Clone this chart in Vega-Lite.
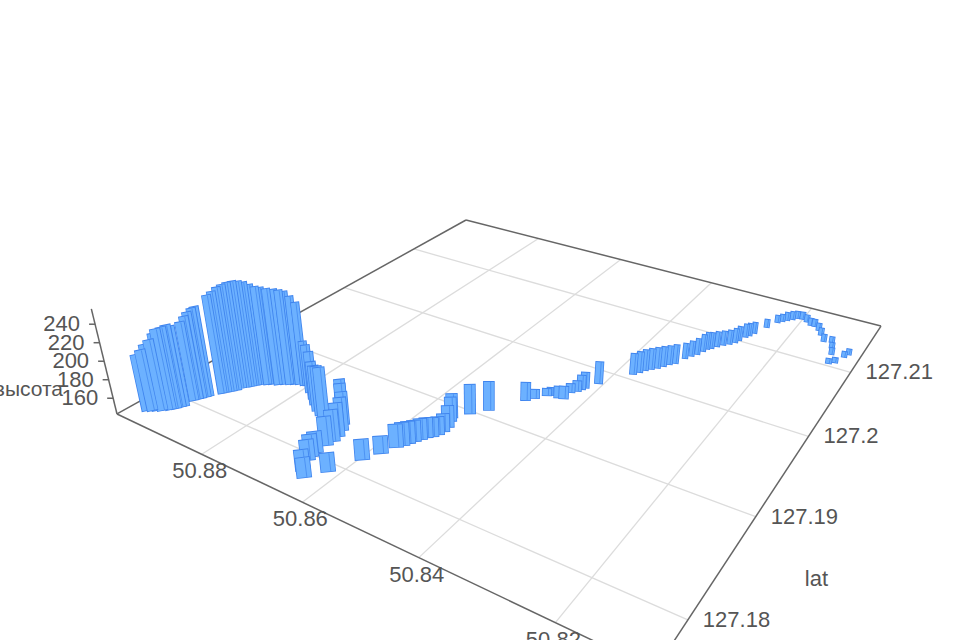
{"$schema":"https://vega.github.io/schema/vega-lite/v6.json","width":960,"height":640,"padding":0,"autosize":{"type":"none"},"background":"white","config":{"view":{"stroke":null}},
"datasets":{
"lines":[
{"kind":"grid","lon1":50.88,"lat1":127.2187,"lon2":50.88,"lat2":127.176},
{"kind":"grid","lon1":50.86,"lat1":127.2187,"lon2":50.86,"lat2":127.176},
{"kind":"grid","lon1":50.84,"lat1":127.2187,"lon2":50.84,"lat2":127.176},
{"kind":"grid","lon1":50.82,"lat1":127.2187,"lon2":50.82,"lat2":127.176},
{"kind":"grid","lon1":50.8993,"lat1":127.21,"lon2":50.8073,"lat2":127.21},
{"kind":"grid","lon1":50.8993,"lat1":127.2,"lon2":50.8073,"lat2":127.2},
{"kind":"grid","lon1":50.8993,"lat1":127.19,"lon2":50.8073,"lat2":127.19},
{"kind":"grid","lon1":50.8993,"lat1":127.18,"lon2":50.8073,"lat2":127.18},
{"kind":"axis","lon1":50.8993,"lat1":127.2187,"lon2":50.8073,"lat2":127.2187},
{"kind":"axis","lon1":50.8993,"lat1":127.2187,"lon2":50.8993,"lat2":127.176},
{"kind":"axis","lon1":50.8993,"lat1":127.176,"lon2":50.8073,"lat2":127.176},
{"kind":"axis","lon1":50.8073,"lat1":127.2187,"lon2":50.8073,"lat2":127.176}
],
"lonTicks":[{"lon":50.88,"lat":127.176,"label":"50.88"},{"lon":50.86,"lat":127.176,"label":"50.86"},{"lon":50.84,"lat":127.176,"label":"50.84"},{"lon":50.82,"lat":127.176,"label":"50.82"}],
"latTicks":[{"lon":50.8073,"lat":127.21,"label":"127.21"},{"lon":50.8073,"lat":127.2,"label":"127.2"},{"lon":50.8073,"lat":127.19,"label":"127.19"},{"lon":50.8073,"lat":127.18,"label":"127.18"}],
"zTicks":[{"lon":50.8993,"lat":127.176,"h":160,"label":"160"},{"lon":50.8993,"lat":127.176,"h":180,"label":"180"},{"lon":50.8993,"lat":127.176,"h":200,"label":"200"},{"lon":50.8993,"lat":127.176,"h":220,"label":"220"},{"lon":50.8993,"lat":127.176,"h":240,"label":"240"}],
"zAxis":[{"lon":50.8993,"lat":127.176,"h":256.5}],
"bars":[
{"lon":50.8962,"lat":127.1775,"h":203},{"lon":50.8955,"lat":127.1777,"h":208},{"lon":50.8949,"lat":127.1779,"h":214},{"lon":50.8942,"lat":127.1781,"h":219},{"lon":50.8938,"lat":127.1784,"h":225},{"lon":50.8933,"lat":127.1785,"h":230},{"lon":50.8928,"lat":127.1788,"h":231},{"lon":50.8925,"lat":127.1791,"h":232},{"lon":50.8922,"lat":127.1793,"h":230},
{"lon":50.8923,"lat":127.1802,"h":229},{"lon":50.892,"lat":127.1805,"h":234},{"lon":50.8917,"lat":127.1807,"h":238},{"lon":50.8914,"lat":127.181,"h":241},{"lon":50.8912,"lat":127.1812,"h":242},
{"lon":50.8901,"lat":127.182,"h":252},{"lon":50.8897,"lat":127.1823,"h":255},{"lon":50.8892,"lat":127.1826,"h":259},{"lon":50.8888,"lat":127.1829,"h":261},{"lon":50.8886,"lat":127.1833,"h":261.5},{"lon":50.8881,"lat":127.1836,"h":262},{"lon":50.8876,"lat":127.1839,"h":261},{"lon":50.8872,"lat":127.1842,"h":259},{"lon":50.8867,"lat":127.1845,"h":255.5},{"lon":50.886,"lat":127.1847,"h":253},{"lon":50.8854,"lat":127.1849,"h":252},{"lon":50.8845,"lat":127.1851,"h":251},{"lon":50.8837,"lat":127.1854,"h":250},{"lon":50.883,"lat":127.1856,"h":249},{"lon":50.8824,"lat":127.1858,"h":247.5},{"lon":50.8817,"lat":127.186,"h":242},{"lon":50.8808,"lat":127.1861,"h":236},
{"lon":50.8804,"lat":127.1862,"h":192},{"lon":50.8785,"lat":127.1856,"h":195},{"lon":50.8768,"lat":127.1851,"h":194},{"lon":50.8754,"lat":127.1846,"h":189},{"lon":50.8738,"lat":127.1841,"h":191},{"lon":50.8725,"lat":127.1838,"h":195},{"lon":50.8715,"lat":127.1836,"h":197},
{"lon":50.8703,"lat":127.1849,"h":178},{"lon":50.869,"lat":127.1843,"h":180},{"lon":50.8678,"lat":127.1838,"h":177},{"lon":50.8669,"lat":127.1832,"h":177},{"lon":50.8663,"lat":127.1825,"h":177.5},{"lon":50.8661,"lat":127.1819,"h":175},{"lon":50.8663,"lat":127.1813,"h":172},
{"lon":50.8663,"lat":127.1803,"h":164},{"lon":50.8662,"lat":127.1798,"h":165},{"lon":50.866,"lat":127.1794,"h":163},{"lon":50.8649,"lat":127.1784,"h":163},{"lon":50.8636,"lat":127.1779,"h":162},{"lon":50.8617,"lat":127.1792,"h":161},
{"lon":50.8595,"lat":127.1814,"h":163},{"lon":50.8582,"lat":127.1826,"h":160},
{"lon":50.8573,"lat":127.1837,"h":166},{"lon":50.8568,"lat":127.1841,"h":166},{"lon":50.8564,"lat":127.1845,"h":165},{"lon":50.856,"lat":127.1849,"h":164},{"lon":50.8555,"lat":127.1853,"h":164},{"lon":50.8551,"lat":127.1857,"h":163},{"lon":50.8545,"lat":127.186,"h":162},{"lon":50.8541,"lat":127.1864,"h":161},{"lon":50.8539,"lat":127.1869,"h":161},{"lon":50.854,"lat":127.1875,"h":165},{"lon":50.8546,"lat":127.1882,"h":168},{"lon":50.855,"lat":127.1886,"h":168},
{"lon":50.8533,"lat":127.1897,"h":174},{"lon":50.8514,"lat":127.1908,"h":173.5},
{"lon":50.8481,"lat":127.1933,"h":162},{"lon":50.8472,"lat":127.1939,"h":152},{"lon":50.846,"lat":127.1947,"h":150},{"lon":50.8454,"lat":127.1949,"h":151},{"lon":50.8441,"lat":127.1949,"h":155},{"lon":50.8433,"lat":127.195,"h":156},{"lon":50.8433,"lat":127.196,"h":152},{"lon":50.8426,"lat":127.1964,"h":154},{"lon":50.8423,"lat":127.1968,"h":158},{"lon":50.842,"lat":127.1971,"h":160},
{"lon":50.8408,"lat":127.1982,"h":167},
{"lon":50.8374,"lat":127.2008,"h":166},{"lon":50.8368,"lat":127.2013,"h":166},{"lon":50.8363,"lat":127.2018,"h":166},{"lon":50.8356,"lat":127.2022,"h":166},{"lon":50.8349,"lat":127.2026,"h":166},{"lon":50.8343,"lat":127.2031,"h":165},{"lon":50.8337,"lat":127.2036,"h":164},{"lon":50.833,"lat":127.204,"h":164},
{"lon":50.8323,"lat":127.2051,"h":160},{"lon":50.8317,"lat":127.2057,"h":160},{"lon":50.8311,"lat":127.2062,"h":161},{"lon":50.8307,"lat":127.2069,"h":162},{"lon":50.8304,"lat":127.2074,"h":162},{"lon":50.8299,"lat":127.2077,"h":161},{"lon":50.8293,"lat":127.2082,"h":160},{"lon":50.8286,"lat":127.2087,"h":159},{"lon":50.8278,"lat":127.2091,"h":159},{"lon":50.8272,"lat":127.2096,"h":159},{"lon":50.8269,"lat":127.2101,"h":159},{"lon":50.8264,"lat":127.2109,"h":158},{"lon":50.826,"lat":127.2113,"h":157},{"lon":50.8256,"lat":127.2119,"h":155.5},
{"lon":50.8245,"lat":127.2134,"h":152},{"lon":50.8235,"lat":127.2147,"h":151},{"lon":50.8229,"lat":127.2151,"h":151},{"lon":50.8223,"lat":127.2155,"h":152},{"lon":50.8216,"lat":127.2159,"h":152},{"lon":50.821,"lat":127.2163,"h":151},{"lon":50.8201,"lat":127.2164,"h":151},{"lon":50.8191,"lat":127.2161,"h":151},{"lon":50.8181,"lat":127.2157,"h":151},{"lon":50.8174,"lat":127.2157,"h":151},{"lon":50.8163,"lat":127.2152,"h":151},{"lon":50.8154,"lat":127.2145,"h":151},{"lon":50.8143,"lat":127.2136,"h":151},
{"lon":50.813,"lat":127.2138,"h":149},{"lon":50.8124,"lat":127.2129,"h":149},{"lon":50.8118,"lat":127.2119,"h":150},{"lon":50.8113,"lat":127.2104,"h":148},{"lon":50.8105,"lat":127.2108,"h":148},{"lon":50.8097,"lat":127.212,"h":149},{"lon":50.8093,"lat":127.2126,"h":149}
]},
"layer":[
{"data":{"name":"lines"},
"transform":[
{"calculate":"(50.8993-datum.lon1)/0.092","as":"u1"},{"calculate":"(127.2187-datum.lat1)/0.0427","as":"v1"},
{"calculate":"(50.8993-datum.lon2)/0.092","as":"u2"},{"calculate":"(127.2187-datum.lat2)/0.0427","as":"v2"},
{"calculate":"1-0.2026*datum.u1-0.3137*datum.v1","as":"d1"},{"calculate":"1-0.2026*datum.u2-0.3137*datum.v2","as":"d2"},
{"calculate":"(236.5*datum.u1-385.7*datum.v1+466)/datum.d1","as":"sx1"},{"calculate":"(40*datum.u1+64.1*datum.v1+220)/datum.d1","as":"sy1"},
{"calculate":"(236.5*datum.u2-385.7*datum.v2+466)/datum.d2","as":"sx2"},{"calculate":"(40*datum.u2+64.1*datum.v2+220)/datum.d2","as":"sy2"},
{"calculate":"datum.kind=='axis'?1:0","as":"rank"}],
"mark":{"type":"rule"},
"encoding":{
"x":{"field":"sx1","type":"quantitative","scale":{"domain":[0,960],"nice":false,"zero":false},"axis":null},
"y":{"field":"sy1","type":"quantitative","scale":{"domain":[640,0],"nice":false,"zero":false},"axis":null},
"x2":{"field":"sx2"},"y2":{"field":"sy2"},
"color":{"field":"kind","type":"nominal","scale":{"domain":["grid","axis"],"range":["#dcdcdc","#666666"]},"legend":null},
"size":{"field":"kind","type":"nominal","scale":{"domain":["grid","axis"],"range":[1.3,1.5]},"legend":null},
"order":{"field":"rank"}}},
{"data":{"name":"zAxis"},
"transform":[
{"calculate":"(50.8993-datum.lon)/0.092","as":"u"},{"calculate":"(127.2187-datum.lat)/0.0427","as":"v"},
{"calculate":"1-0.2026*datum.u-0.3137*datum.v","as":"d"},
{"calculate":"(236.5*datum.u-385.7*datum.v+466)/datum.d","as":"sx"},{"calculate":"(40*datum.u+64.1*datum.v+220)/datum.d","as":"sy"},
{"calculate":"0.635*(datum.h-143)/datum.d","as":"lift"},
{"calculate":"datum.sx+(datum.sx-490)/(1940-datum.sy)*datum.lift","as":"tx"},{"calculate":"datum.sy-datum.lift","as":"ty"}],
"mark":{"type":"rule","color":"#666666","strokeWidth":1.5},
"encoding":{"x":{"field":"sx","type":"quantitative","scale":{"domain":[0,960],"nice":false,"zero":false},"axis":null},"y":{"field":"sy","type":"quantitative","scale":{"domain":[640,0],"nice":false,"zero":false},"axis":null},"x2":{"field":"tx"},"y2":{"field":"ty"}}},
{"data":{"name":"zTicks"},
"transform":[
{"calculate":"(50.8993-datum.lon)/0.092","as":"u"},{"calculate":"(127.2187-datum.lat)/0.0427","as":"v"},
{"calculate":"1-0.2026*datum.u-0.3137*datum.v","as":"d"},
{"calculate":"(236.5*datum.u-385.7*datum.v+466)/datum.d","as":"sx"},{"calculate":"(40*datum.u+64.1*datum.v+220)/datum.d","as":"sy"},
{"calculate":"0.635*(datum.h-143)/datum.d","as":"lift"},
{"calculate":"datum.sx+(datum.sx-490)/(1940-datum.sy)*datum.lift","as":"tx"},{"calculate":"datum.sy-datum.lift","as":"ty"},{"calculate":"datum.tx-6","as":"tx0"}],
"layer":[
{"mark":{"type":"rule","color":"#666666","strokeWidth":1.5},"encoding":{"x":{"field":"tx","type":"quantitative","scale":{"domain":[0,960],"nice":false,"zero":false},"axis":null},"y":{"field":"ty","type":"quantitative","scale":{"domain":[640,0],"nice":false,"zero":false},"axis":null},"x2":{"field":"tx0"}}},
{"mark":{"type":"text","font":"Liberation Sans","fontSize":22,"color":"#555555","align":"right","baseline":"middle","dx":-15},"encoding":{"x":{"field":"tx","type":"quantitative","scale":{"domain":[0,960],"nice":false,"zero":false},"axis":null},"y":{"field":"ty","type":"quantitative","scale":{"domain":[640,0],"nice":false,"zero":false},"axis":null},"text":{"field":"label"}}}]},
{"data":{"values":[{"lon":50.8993,"lat":127.176,"h":169,"label":"высота"}]},
"transform":[
{"calculate":"(50.8993-datum.lon)/0.092","as":"u"},{"calculate":"(127.2187-datum.lat)/0.0427","as":"v"},
{"calculate":"1-0.2026*datum.u-0.3137*datum.v","as":"d"},
{"calculate":"(236.5*datum.u-385.7*datum.v+466)/datum.d","as":"sx"},{"calculate":"(40*datum.u+64.1*datum.v+220)/datum.d","as":"sy"},
{"calculate":"0.635*(datum.h-143)/datum.d","as":"lift"},{"calculate":"datum.sy-datum.lift","as":"ty"}],
"mark":{"type":"text","font":"Liberation Sans","fontSize":21,"color":"#555555","align":"right","baseline":"middle","dx":-54},
"encoding":{"x":{"field":"sx","type":"quantitative","scale":{"domain":[0,960],"nice":false,"zero":false},"axis":null},"y":{"field":"ty","type":"quantitative","scale":{"domain":[640,0],"nice":false,"zero":false},"axis":null},"text":{"field":"label"}}},
{"data":{"name":"lonTicks"},
"transform":[
{"calculate":"(50.8993-datum.lon)/0.092","as":"u"},{"calculate":"(127.2187-datum.lat)/0.0427","as":"v"},
{"calculate":"1-0.2026*datum.u-0.3137*datum.v","as":"d"},
{"calculate":"(236.5*datum.u-385.7*datum.v+466)/datum.d","as":"sx"},{"calculate":"(40*datum.u+64.1*datum.v+220)/datum.d","as":"sy"}],
"mark":{"type":"text","font":"Liberation Sans","fontSize":22,"color":"#555555","align":"center","baseline":"middle","dx":-2,"dy":17},
"encoding":{"x":{"field":"sx","type":"quantitative","scale":{"domain":[0,960],"nice":false,"zero":false},"axis":null},"y":{"field":"sy","type":"quantitative","scale":{"domain":[640,0],"nice":false,"zero":false},"axis":null},"text":{"field":"label"}}},
{"data":{"name":"latTicks"},
"transform":[
{"calculate":"(50.8993-datum.lon)/0.092","as":"u"},{"calculate":"(127.2187-datum.lat)/0.0427","as":"v"},
{"calculate":"1-0.2026*datum.u-0.3137*datum.v","as":"d"},
{"calculate":"(236.5*datum.u-385.7*datum.v+466)/datum.d","as":"sx"},{"calculate":"(40*datum.u+64.1*datum.v+220)/datum.d","as":"sy"}],
"mark":{"type":"text","font":"Liberation Sans","fontSize":22,"color":"#555555","align":"left","baseline":"middle","dx":15},
"encoding":{"x":{"field":"sx","type":"quantitative","scale":{"domain":[0,960],"nice":false,"zero":false},"axis":null},"y":{"field":"sy","type":"quantitative","scale":{"domain":[640,0],"nice":false,"zero":false},"axis":null},"text":{"field":"label"}}},
{"data":{"values":[{"lon":50.8073,"lat":127.1855,"label":"lat"}]},
"transform":[
{"calculate":"(50.8993-datum.lon)/0.092","as":"u"},{"calculate":"(127.2187-datum.lat)/0.0427","as":"v"},
{"calculate":"1-0.2026*datum.u-0.3137*datum.v","as":"d"},
{"calculate":"(236.5*datum.u-385.7*datum.v+466)/datum.d","as":"sx"},{"calculate":"(40*datum.u+64.1*datum.v+220)/datum.d","as":"sy"}],
"mark":{"type":"text","font":"Liberation Sans","fontSize":22,"color":"#555555","align":"center","baseline":"middle","dx":89,"dy":19},
"encoding":{"x":{"field":"sx","type":"quantitative","scale":{"domain":[0,960],"nice":false,"zero":false},"axis":null},"y":{"field":"sy","type":"quantitative","scale":{"domain":[640,0],"nice":false,"zero":false},"axis":null},"text":{"field":"label"}}},
{"data":{"name":"bars"},
"transform":[
{"fold":["lon","lat","h"],"as":["part","pv"]},
{"calculate":"(50.8993-datum.lon)/0.092","as":"u"},{"calculate":"(127.2187-datum.lat)/0.0427","as":"v"},
{"calculate":"1-0.2026*datum.u-0.3137*datum.v","as":"d"},
{"calculate":"(236.5*datum.u-385.7*datum.v+466)/datum.d","as":"sx"},{"calculate":"(40*datum.u+64.1*datum.v+220)/datum.d","as":"sy"},
{"calculate":"0.635*(datum.h-143)/datum.d","as":"lift"},
{"calculate":"datum.sx+(datum.sx-490)/(1940-datum.sy)*datum.lift","as":"tx"},{"calculate":"datum.sy-datum.lift","as":"ty"},
{"calculate":"max(4.5,min(14,3+0.1*(datum.sy-340)))","as":"w"},
{"calculate":"datum.part=='lon'?datum.w+1.6:(datum.part=='lat'?datum.w:0.9)","as":"sw"},
{"calculate":"datum.part=='lon'?'#3f84ee':(datum.part=='lat'?'#6cb1ff':'#4a90f2')","as":"col"},
{"calculate":"datum.part=='h'?0.18*datum.w:0","as":"shift"},
{"calculate":"datum.sx+datum.shift","as":"x1"},{"calculate":"datum.tx+datum.shift","as":"x2v"},
{"calculate":"datum.part=='lon'?datum.sy+0.8:datum.sy","as":"y1"},{"calculate":"datum.part=='lon'?datum.ty-1:datum.ty","as":"y2v"},
{"calculate":"datum.sy+(datum.part=='lon'?0:(datum.part=='lat'?0.01:0.02))","as":"depth"}],
"mark":{"type":"rule"},
"encoding":{
"x":{"field":"x1","type":"quantitative","scale":{"domain":[0,960],"nice":false,"zero":false},"axis":null},
"y":{"field":"y1","type":"quantitative","scale":{"domain":[640,0],"nice":false,"zero":false},"axis":null},
"x2":{"field":"x2v"},"y2":{"field":"y2v"},
"color":{"field":"col","type":"nominal","scale":null},
"size":{"field":"sw","type":"quantitative","scale":null},
"order":{"field":"depth"}}}
]}
